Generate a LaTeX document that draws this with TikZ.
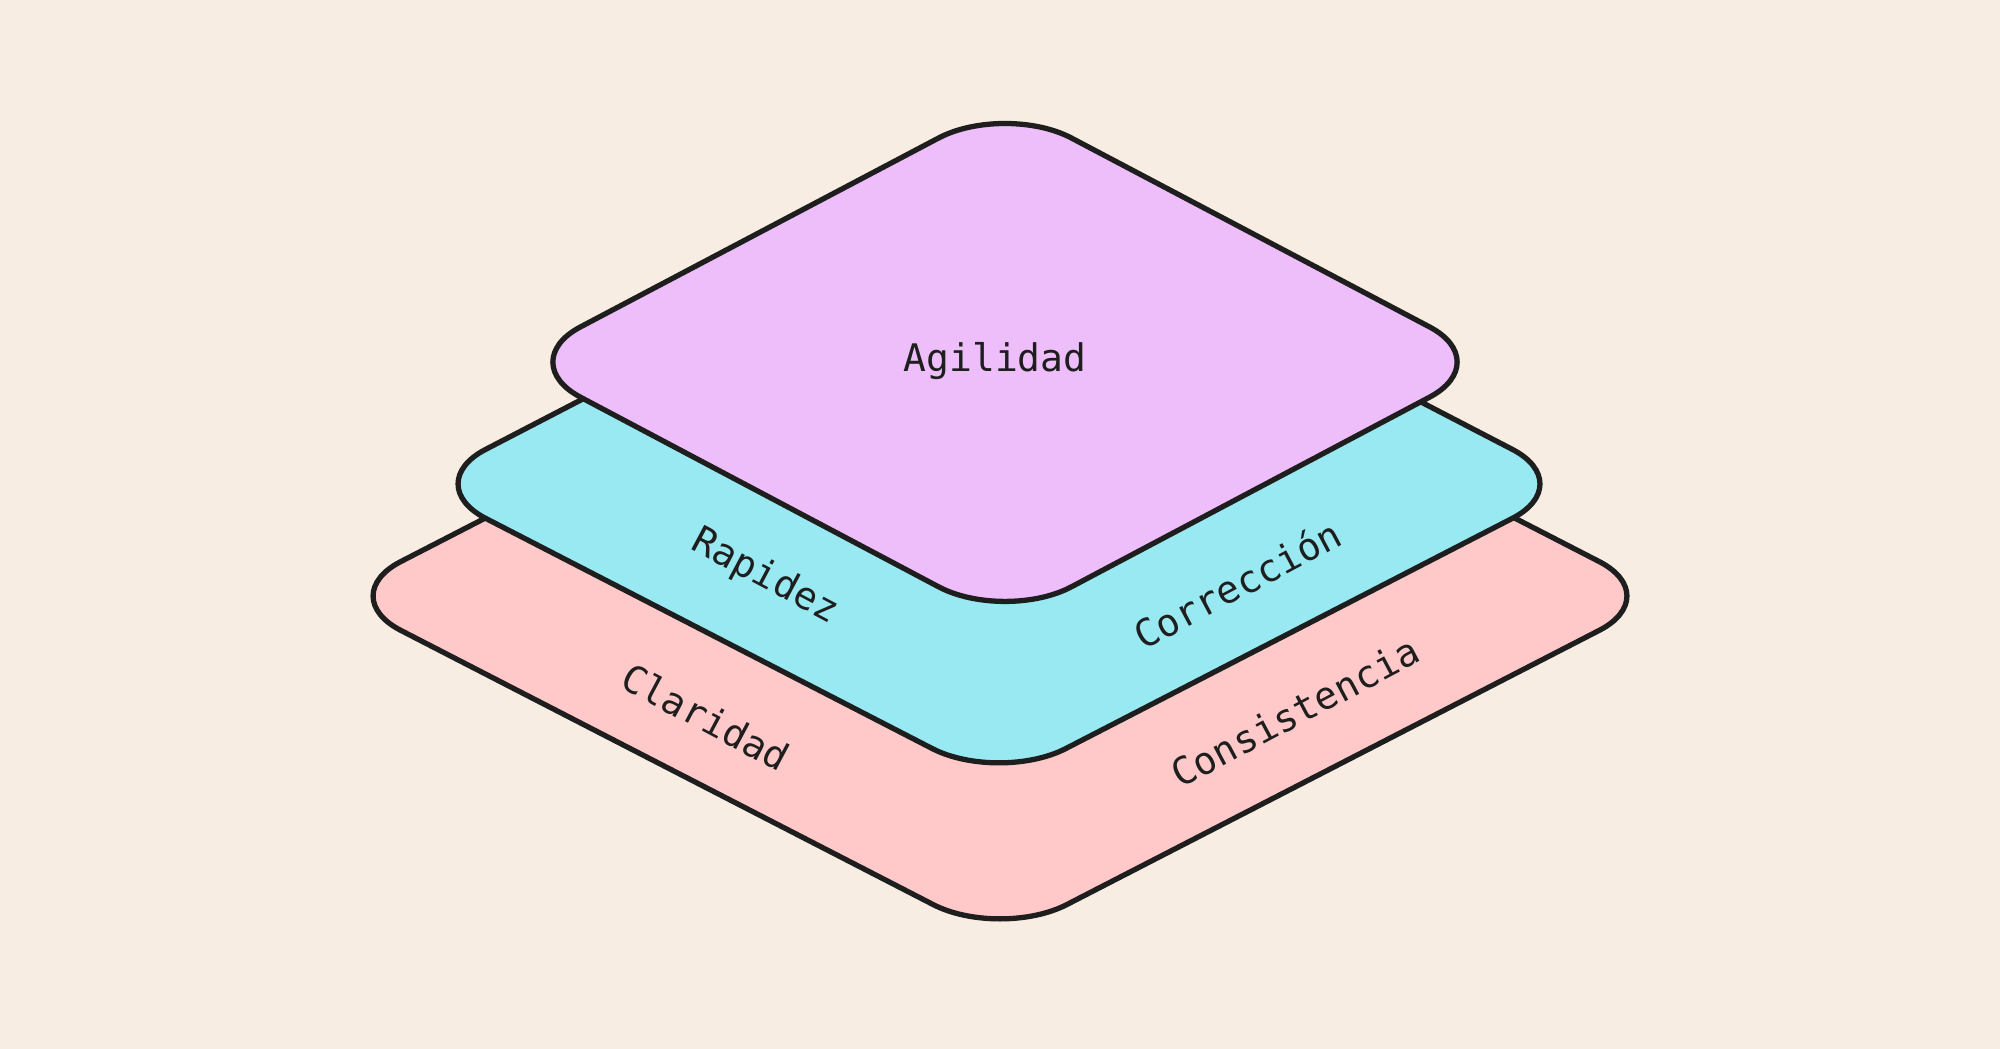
\documentclass[tikz,border=0pt]{standalone}
\usepackage{fontspec}
\setmonofont{DejaVu Sans Mono}
\usepackage{xcolor}
\usetikzlibrary{calc,positioning}
\definecolor{paper}{RGB}{247,237,226}
\definecolor{inkline}{RGB}{30,30,30}
\definecolor{violetfill}{RGB}{238,190,250}
\definecolor{cyanfill}{RGB}{153,233,242}
\definecolor{rosefill}{RGB}{255,201,201}

\tikzset{
  layer/.style={draw=inkline, line width=1.5pt, line join=round, rounded corners=0.75cm},
  tag/.style={font=\ttfamily\fontsize{10.8}{13}\selectfont, text=inkline, inner sep=0pt}
}

\begin{document}
\begin{tikzpicture}[x=0.01cm, y=0.01cm]
  % Background
  \fill[paper] (0, 0) rectangle (2000, 1049);
  \useasboundingbox (0, 0) rectangle (2000, 1049);

  % Bottom layer
  \filldraw[layer, fill=rosefill]
    (1000, 796) -- (1666, 453) -- (1000, 110) -- (334, 453) -- cycle;
  % Middle layer
  \filldraw[layer, fill=cyanfill]
    (999, 866) -- (1579, 565) -- (999, 266) -- (419, 565) -- cycle;
  % Top layer
  \filldraw[layer, fill=violetfill]
    (1005, 946) -- (1496, 687) -- (1005, 427) -- (514, 687) -- cycle;

  % Labels
  \node[tag] (agilidad) at (995, 688) {Agilidad};
  \node[tag, rotate=-28] (rapidez) at (765, 472) {Rapidez};
  \node[tag, rotate=28] (correccion) at (1237, 465) {Corrección};
  \node[tag, rotate=-28] (claridad) at (706, 332) {Claridad};
  \node[tag, rotate=28] (consistencia) at (1295, 337) {Consistencia};
\end{tikzpicture}
\end{document}
